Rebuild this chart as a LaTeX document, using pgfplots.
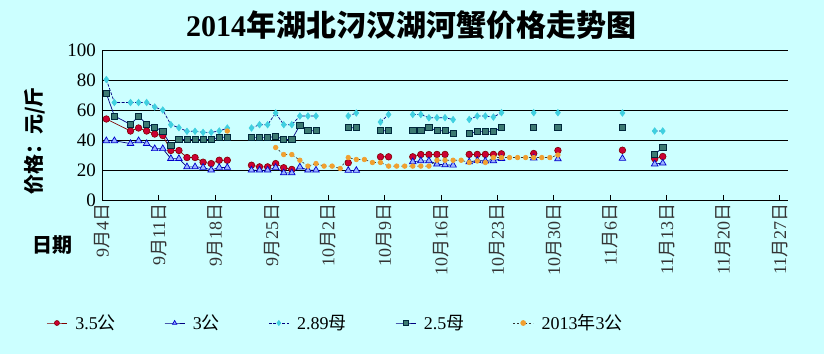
\documentclass[border=0pt]{standalone}
\usepackage{pgfplots}
\pgfplotsset{compat=1.18}
\usepackage{fontspec}
\setmainfont{Liberation Serif}
\newfontfamily\cjk{Noto Sans CJK SC}
\newcommand\yue{{\cjk 月}}
\newcommand\ri{{\cjk 日}}
\definecolor{bg}{RGB}{204,255,255}
\definecolor{redfill}{RGB}{204,0,51}
\definecolor{redline}{RGB}{128,0,0}
\definecolor{trifill}{RGB}{153,179,255}
\definecolor{triline}{RGB}{0,0,204}
\definecolor{cyanfill}{RGB}{64,208,224}
\definecolor{sqfill}{RGB}{60,122,114}
\definecolor{sqline}{RGB}{0,40,60}
\definecolor{orfill}{RGB}{240,160,48}
\definecolor{navyline}{RGB}{0,0,128}
\begin{document}
\begin{tikzpicture}
\fill[bg] (0,0) rectangle (824pt,354pt);
\begin{axis}[
  at={(102.3pt,154pt)}, anchor=south west,
  width=686pt, height=150pt, scale only axis,
  xmin=-0.5, xmax=84.57, ymin=0, ymax=100,
  axis x line*=bottom, axis y line*=left,
  axis line style={black, line width=0.9pt},
  ytick={0,20,...,100},
  ymajorgrids, grid style={black, line width=0.9pt},
  ytick style={draw=none},
  xtick={-0.5,6.5,...,83.5},
  xticklabels={9\yue4\ri, 9\yue11\ri, 9\yue18\ri, 9\yue25\ri, 10\yue2\ri, 10\yue9\ri, 10\yue16\ri, 10\yue23\ri, 10\yue30\ri, 11\yue6\ri, 11\yue13\ri, 11\yue20\ri, 11\yue27\ri},
  tick align=inside,
  xtick style={black, line width=0.8pt},
  major tick length=5pt,
  xticklabel style={rotate=90, anchor=east, font=\fontsize{18}{18}\selectfont, text=black!80},
  /pgf/number format/assume math mode=true,
  yticklabel style={font=\fontsize{19}{19}\selectfont, xshift=-3pt},
  unbounded coords=jump,
  legend columns=5,
  legend style={at={(-0.0815,-0.82)}, anchor=west, draw=none, fill=none, inner sep=0pt,
    font=\fontsize{18}{18}\selectfont,
    /tikz/every odd column/.append style={column sep=6pt},
    /tikz/every even column/.append style={column sep=46.5pt}},
  legend image code/.code={\draw[mark repeat=2,mark phase=2,#1,mark size=2.5pt] plot coordinates {(0pt,0pt) (10pt,0pt) (20pt,0pt)};},
]
\addplot[redline, line width=0.7pt, mark=*, mark size=3.3pt, mark options={solid, fill=redfill, draw=redline, line width=0.6pt}]
coordinates {(0,54) (3,46) (4,48) (5,46) (6,44) (7,43) (8,33) (9,33) (10,28.3) (11,28.3) (12,25.2) (13,24.3) (14,26.5) (15,26.5) (16,nan)
(18,23.2) (19,22.1) (20,22.1) (21,24.3) (22,21.5) (23,20.4) (24,nan)
(30,24.8) (31,nan) (34,28.8) (35,28.8) (36,nan)
(38,28.8) (39,30.3) (40,30.3) (41,30.4) (42,30.4) (43,nan)
(45,30.4) (46,30.4) (47,30.4) (48,30.4) (49,30.8) (50,nan)
(53,31) (54,nan) (56,33) (57,nan) (64,33.2) (65,nan) (68,27.5) (69,29)};
\addlegendentry{3.5{\cjk 公}}
\addplot[navyline, line width=0.7pt, mark=triangle*, mark size=3.8pt, mark options={solid, fill=trifill, draw=triline, line width=0.7pt}]
coordinates {(0,39.5) (1,39.5) (3,37.6) (4,39.5) (5,37.6) (6,34.2) (7,34.2) (8,27.6) (9,27.6) (10,22.1) (11,22.1) (12,21.7) (13,20) (14,21.7) (15,21.7) (16,nan)
(18,19.9) (19,19.9) (20,19.9) (21,21.7) (22,18.1) (23,18.1) (24,22) (25,19.9) (26,19.9) (27,nan)
(30,19.7) (31,19.7) (32,nan)
(38,25.5) (39,26.1) (40,26.1) (41,23.9) (42,23.4) (43,23.2) (44,nan)
(45,25.4) (46,26.3) (47,26) (48,26.1) (49,27.6) (50,nan)
(53,28) (54,nan) (56,27.4) (57,nan) (64,27.7) (65,nan) (68,24) (69,24.6)};
\addlegendentry{3{\cjk 公}}
\addplot[navyline, line width=0.7pt, dash pattern=on 3pt off 1.5pt, mark=diamond*, mark size=3.2pt, mark options={solid, fill=cyanfill, draw=cyanfill}]
coordinates {(0,80.3) (1,65) (3,65) (4,65) (5,65) (6,62) (7,60) (8,50.2) (9,48.2) (10,45.8) (11,45.8) (12,45.1) (13,45.1) (14,46) (15,48) (16,nan)
(18,48) (19,50.2) (20,50.2) (21,58) (22,50.2) (23,50.2) (24,56) (25,56) (26,56) (27,nan)
(30,56) (31,58) (32,nan) (34,52) (35,57) (36,nan)
(38,57) (39,57) (40,54.8) (41,54.9) (42,54.9) (43,53.6) (44,nan)
(45,53.7) (46,56) (47,56) (48,55.3) (49,58.2) (50,nan)
(53,58.2) (54,nan) (56,58.2) (57,nan) (64,58) (65,nan) (68,46) (69,46)};
\addlegendentry{2.89{\cjk 母}}
\addplot[navyline, line width=0.7pt, mark=square*, mark size=3.1pt, mark options={solid, fill=sqfill, draw=sqline, line width=0.7pt}]
coordinates {(0,71) (1,56) (3,50.4) (4,55.8) (5,50.4) (6,48.7) (7,45.6) (8,36.3) (9,40.3) (10,40.3) (11,40.3) (12,40.3) (13,40.3) (14,41.8) (15,41.8) (16,nan)
(18,41.6) (19,41.6) (20,41.6) (21,42.5) (22,40.3) (23,40.3) (24,49.8) (25,46.2) (26,46.2) (27,nan)
(30,48.2) (31,48.2) (32,nan) (34,46.2) (35,46.2) (36,nan)
(38,46.2) (39,46.2) (40,48.2) (41,46.2) (42,46.2) (43,44.2) (44,nan)
(45,44.5) (46,45.6) (47,45.6) (48,45.6) (49,48.2) (50,nan)
(53,48.2) (54,nan) (56,48.2) (57,nan) (64,48.2) (65,nan) (68,30.5) (69,35)};
\addlegendentry{2.5{\cjk 母}}
\addplot[black!80, line width=0.7pt, dash pattern=on 2pt off 2pt, mark=*, mark size=2.3pt, mark options={solid, fill=orfill, draw=orfill}]
coordinates {(15,46) (16,nan)
(21,35) (22,30.3) (23,30.3) (24,26.5) (25,22.6) (26,24.3) (27,22.6) (28,22.6) (29,21) (30,28.3) (31,27) (32,27) (33,25) (34,25) (35,22.6) (36,22.6) (37,22.6) (38,22.6) (39,22.6) (40,22.6) (41,26.5) (42,26.5) (43,26.5) (44,26.5) (45,25) (46,26) (47,25) (48,28.3) (49,28.3) (50,28.3) (51,28.3) (52,28.3) (53,28.3) (54,28.3) (55,28.3) (56,30)};
\addlegendentry{2013{\cjk 年}3{\cjk 公}}
\end{axis}
\node[font=\fontsize{30}{30}\selectfont\bfseries] at (411pt,329pt) {2014{\cjk 年湖北汈汉湖河蟹价格走势图}};
\node[rotate=90, font=\fontsize{20}{20}\selectfont\bfseries] at (35pt,213pt) {{\cjk 价格：元/斤}};
\node[font=\fontsize{20}{20}\selectfont\bfseries] at (52pt,109pt) {{\cjk 日期}};
\end{tikzpicture}
\end{document}
